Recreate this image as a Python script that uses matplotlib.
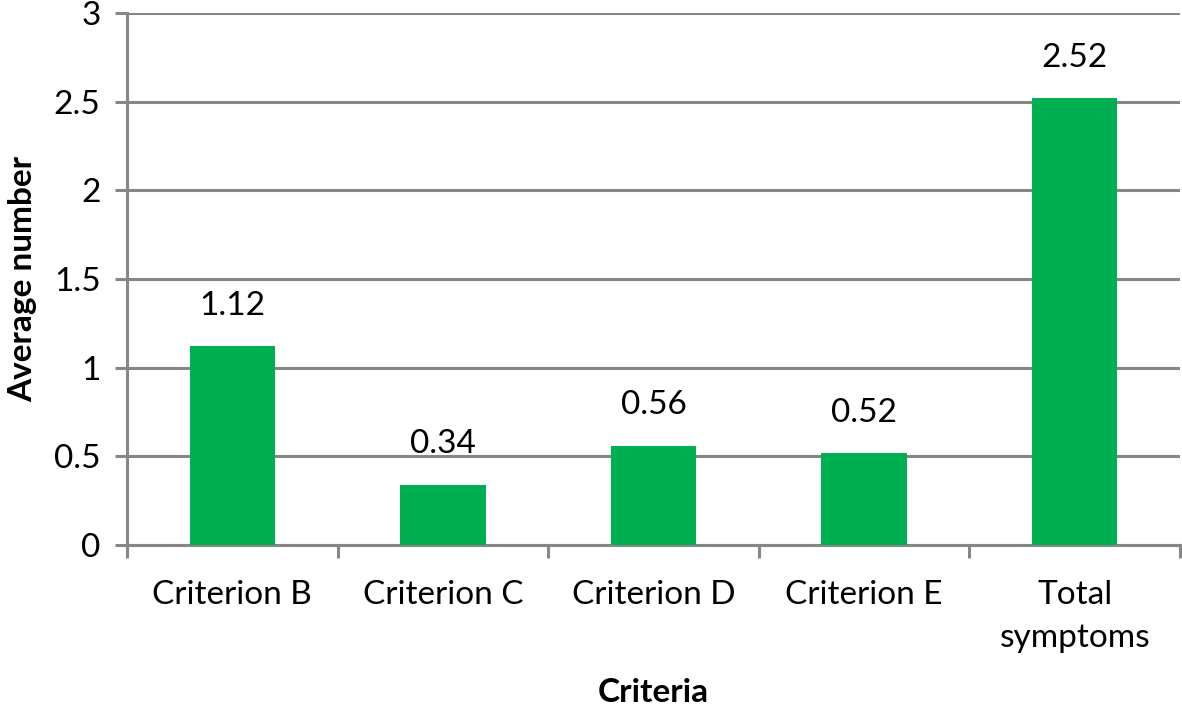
import matplotlib
matplotlib.use("Agg")
import matplotlib.pyplot as plt
import numpy as np

categories = ["Criterion B", "Criterion C", "Criterion D", "Criterion E", "Total\nsymptoms"]
values = [1.12, 0.34, 0.56, 0.52, 2.52]
value_labels = ["1.12", "0.34", "0.56", "0.52", "2.52"]
yticks = [0, 0.5, 1, 1.5, 2, 2.5, 3]
ytick_labels = ["0", "0.5", "1", "1.5", "2", "2.5", "3"]

plt.rcParams['font.family'] = ['Lato', 'DejaVu Sans']

fig = plt.figure(figsize=(11.82, 7.08), dpi=100)
ax = fig.add_axes([127/1182, 1-545/708, (1180-127)/1182, (545-13)/708])

gray = "#878787"
fs = 24
x = np.arange(len(categories))
ax.bar(x, values, width=0.405, color="#00B050", zorder=3)
ax.set_xlim(-0.5, len(categories) - 0.5)
ax.set_ylim(0, 3)
ax.set_yticks(yticks)
ax.set_yticklabels(ytick_labels, fontsize=fs)
ax.yaxis.grid(True, color=gray, linewidth=2.2, zorder=0)
ax.set_axisbelow(True)

ax.set_xticks(x)
ax.set_xticklabels(categories, fontsize=fs, linespacing=1.55)
ax.tick_params(axis='x', length=0, pad=25)
ax.set_xticks(np.arange(len(categories) + 1) - 0.5, minor=True)
ax.tick_params(axis='x', which='minor', length=9, width=2.2, color=gray)
ax.tick_params(axis='y', length=9, width=2.2, color=gray, pad=10)

for s in ['top', 'right']:
    ax.spines[s].set_visible(False)
for s in ['left', 'bottom']:
    ax.spines[s].set_color(gray)
    ax.spines[s].set_linewidth(2.2)

for xi, v, lab in zip(x, values, value_labels):
    ax.annotate(lab, (xi, v), xytext=(0, 29), textcoords='offset points',
                ha='center', va='center', fontsize=fs)

ax.set_ylabel("Average number", fontsize=fs, fontweight='bold', labelpad=12)
ax.set_xlabel("Criteria", fontsize=fs, fontweight='bold', labelpad=18)

fig.savefig("out.png", dpi=100)
